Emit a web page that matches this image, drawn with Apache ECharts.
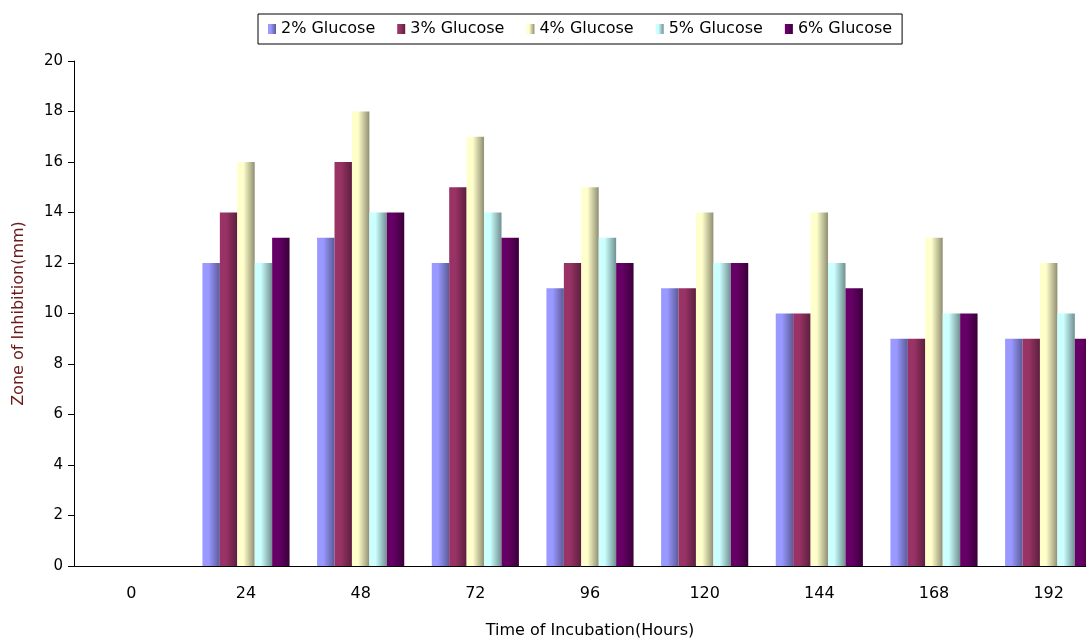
<!DOCTYPE html>
<html><head><meta charset="utf-8">
<script src="https://cdn.jsdelivr.net/npm/echarts@6/dist/echarts.min.js"></script>
<style>html,body{margin:0;padding:0;background:#fff}#c{width:1086px;height:639px}</style>
</head><body><div id="c"></div>
<script>
const categories = ['0','24','48','72','96','120','144','168','192'];
const seriesNames = ['2% Glucose','3% Glucose','4% Glucose','5% Glucose','6% Glucose'];
const glucose2 = [0,12,13,12,11,11,10,9,9];
const glucose3 = [0,14,16,15,12,11,10,9,9];
const glucose4 = [0,16,18,17,15,14,14,13,12];
const glucose5 = [0,12,14,14,13,12,12,10,10];
const glucose6 = [0,13,14,13,12,12,11,10,9];
const values = [glucose2,glucose3,glucose4,glucose5,glucose6];
const baseColors = ['#9999FF','#993366','#FFFFCC','#CCFFFF','#660066'];
const darkColors = ['#5a5a99','#5c1f3d','#8f8f72','#6f9090','#3a003a'];

function grad(i){
  return new echarts.graphic.LinearGradient(0,0,1,0,[
    {offset:0,color:baseColors[i]},
    {offset:0.35,color:baseColors[i]},
    {offset:1,color:darkColors[i]}
  ]);
}
const FONT = 'DejaVu Sans, Liberation Sans, sans-serif';
const chart = echarts.init(document.getElementById('c'));
chart.setOption({
  animation:false,
  textStyle:{fontFamily:FONT},
  legend:{
    top:14,left:258,
    itemWidth:8,itemHeight:10,itemGap:22,
    borderColor:'#000',borderWidth:1,padding:[7,10,7,10],
    textStyle:{fontSize:16,color:'#000',fontFamily:FONT},
    data:seriesNames.map((n,i)=>({name:n,icon:'rect',itemStyle:{color:grad(i)}}))
  },
  grid:{left:74,top:61,width:1032,height:505,containLabel:false,outerBoundsMode:'none'},
  xAxis:{
    type:'category',data:categories,
    name:'Time of Incubation(Hours)',nameLocation:'middle',nameGap:57,
    nameTextStyle:{fontSize:16,color:'#000',fontFamily:FONT},
    axisLine:{lineStyle:{color:'#000',width:1}},
    axisTick:{show:false},
    axisLabel:{fontSize:16,color:'#000',margin:20,fontFamily:FONT}
  },
  yAxis:{
    type:'value',min:0,max:20,interval:2,
    name:'Zone of Inhibition(mm)',nameLocation:'middle',nameGap:47,
    nameTextStyle:{fontSize:16,color:'#6b1a1a',fontFamily:FONT},
    axisLine:{show:true,lineStyle:{color:'#000',width:1}},
    axisTick:{show:true,length:6,lineStyle:{color:'#000'}},
    splitLine:{show:false},
    axisLabel:{fontSize:15,color:'#000',margin:11,fontFamily:FONT}
  },
  series:seriesNames.map((n,i)=>({
    name:n,type:'bar',data:values[i],
    barGap:'0%',barCategoryGap:'24%',
    itemStyle:{color:grad(i)}
  }))
});
</script></body></html>
